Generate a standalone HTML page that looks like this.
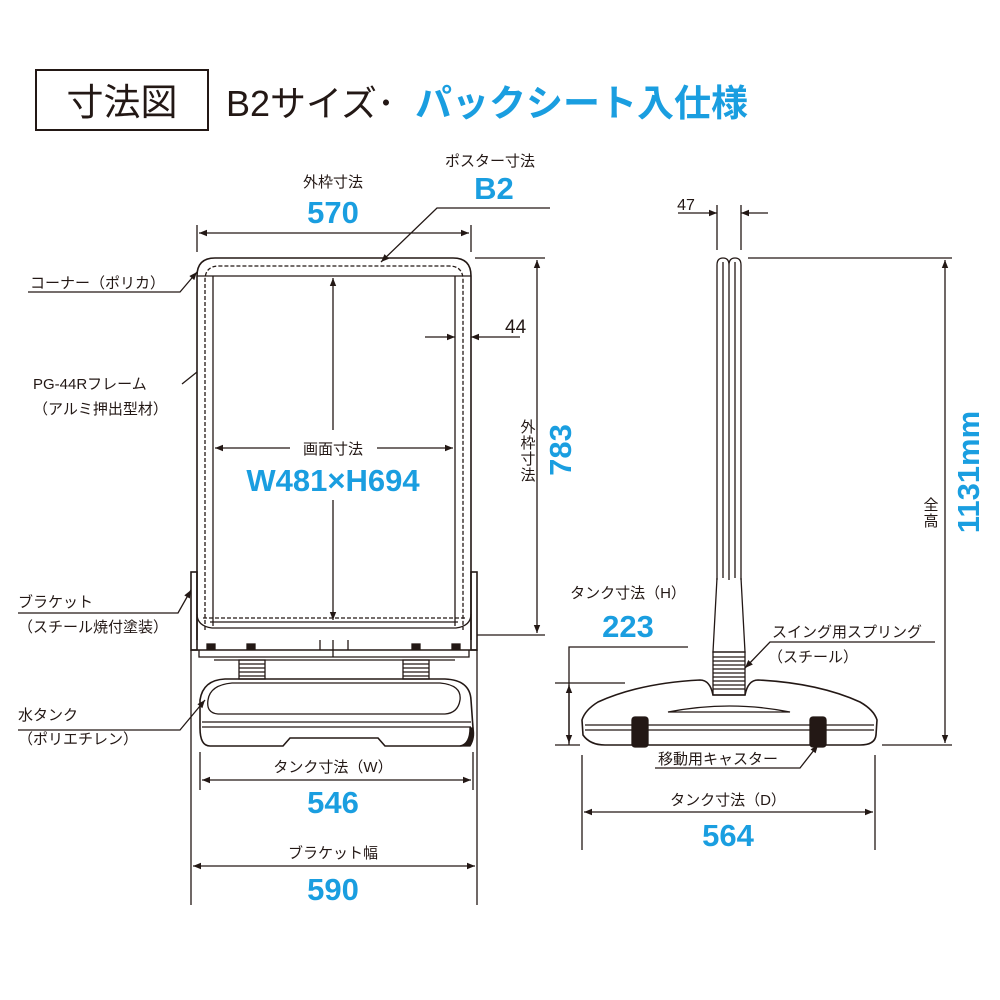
<!DOCTYPE html>
<html><head><meta charset="utf-8"><style>
html,body{margin:0;padding:0;background:#fff;}
svg{display:block;}
text{font-family:"Liberation Sans","Noto Sans CJK JP",sans-serif;fill:#231815;}
.b{fill:#1a9ee0;font-weight:bold;}
.s{font-size:15px;}
</style></head><body>
<svg width="1000" height="1000" viewBox="0 0 1000 1000" xmlns="http://www.w3.org/2000/svg">
<defs>
<marker id="a" viewBox="0 0 10 10" refX="10" refY="5" markerWidth="10" markerHeight="8" orient="auto-start-reverse" markerUnits="userSpaceOnUse"><path d="M0,1 L10,5 L0,9z" fill="#231815"/></marker>
</defs>
<g stroke="#231815" fill="none" stroke-width="1.3">
<rect x="36" y="70" width="172" height="60" stroke-width="2"/>
</g>
<text x="122" y="115" font-size="37" text-anchor="middle">寸法図</text>
<text x="226" y="116" font-size="36">B2サイズ･</text>
<text x="415" y="116" font-size="37" class="b">パックシート入仕様</text>

<g stroke="#231815" fill="none" stroke-width="1.3">
<line x1="197" y1="225" x2="197" y2="252"/><line x1="471" y1="225" x2="471" y2="252"/>
<line x1="199" y1="233" x2="469" y2="233" marker-start="url(#a)" marker-end="url(#a)"/>
<polyline points="550,208 437,208 381,262" marker-end="url(#a)"/>
<path d="M197,640 V276 Q197,258 215,258 H453 Q471,258 471,276 V640" stroke-width="1.6"/>
<path d="M205,630 V280 Q205,266 219,266 H449 Q463,266 463,280 V630" stroke-dasharray="4,2"/>
<line x1="197" y1="276" x2="471" y2="276"/>
<line x1="213" y1="276" x2="213" y2="626"/><line x1="455" y1="276" x2="455" y2="626"/>
<path d="M197,614 Q197,626 212,628 H456 Q471,626 471,614"/>
<line x1="203" y1="618" x2="465" y2="618" stroke-dasharray="4,2"/>
<line x1="210" y1="622" x2="458" y2="622"/>
<rect x="191" y="572" width="6" height="78" stroke-width="1.6"/>
<rect x="471" y="572" width="6" height="78" stroke-width="1.6"/>
<line x1="191" y1="650" x2="477" y2="650" stroke-width="1.6"/>
<polyline points="199,650 199,657 469,657 469,650"/>
<line x1="214" y1="660" x2="455" y2="660"/>
<line x1="333" y1="640" x2="333" y2="657"/><line x1="320" y1="640" x2="320" y2="650"/><line x1="348" y1="640" x2="348" y2="650"/>
<g fill="#231815"><rect x="207" y="644" width="8" height="5"/><rect x="247" y="644" width="8" height="5"/><rect x="412" y="644" width="8" height="5"/><rect x="452" y="644" width="8" height="5"/></g>
<rect x="239" y="660" width="26" height="19"/><rect x="403" y="660" width="26" height="19"/>
<path d="M239,664h26M239,668h26M239,672h26M239,676h26M403,664h26M403,668h26M403,672h26M403,676h26"/>
<path d="M225,679 H445 Q470,680 471,700 L473,728 Q472,746 460,746 H385 L378,738 H290 L283,746 H210 Q200,746 200,728 L200,700 Q203,680 225,679Z" stroke-width="1.6"/>
<path d="M232,683 H440 Q462,685 460,700 Q458,713 445,714 H218 Q206,713 208,700 Q210,685 232,683Z"/>
<line x1="202" y1="722" x2="471" y2="722"/><line x1="202" y1="727" x2="471" y2="727"/>
<path d="M470,728 Q470,744 460,746 L470,746 Q475,738 473,728Z" fill="#231815"/>
<line x1="475" y1="258" x2="545" y2="258"/><line x1="477" y1="635" x2="545" y2="635"/>
<line x1="537" y1="260" x2="537" y2="633" marker-start="url(#a)" marker-end="url(#a)"/>
<line x1="425" y1="337" x2="455" y2="337" marker-end="url(#a)"/>
<line x1="520" y1="337" x2="471" y2="337" marker-end="url(#a)"/>
<line x1="333" y1="430" x2="333" y2="278" marker-end="url(#a)"/>
<line x1="333" y1="500" x2="333" y2="620" marker-end="url(#a)"/>
<line x1="290" y1="448" x2="215" y2="448" marker-end="url(#a)"/>
<line x1="377" y1="448" x2="453" y2="448" marker-end="url(#a)"/>
<polyline points="28,292 180,292 197,272" marker-end="url(#a)"/>
<line x1="182" y1="384" x2="197" y2="372"/>
<polyline points="18,613 178,613 191,590" marker-end="url(#a)"/>
<polyline points="18,730 180,730 205,700" marker-end="url(#a)"/>
<line x1="200" y1="752" x2="200" y2="790"/><line x1="473" y1="752" x2="473" y2="790"/>
<line x1="202" y1="780" x2="471" y2="780" marker-start="url(#a)" marker-end="url(#a)"/>
<line x1="191" y1="650" x2="191" y2="905"/><line x1="477" y1="650" x2="477" y2="905"/>
<line x1="193" y1="866" x2="475" y2="866" marker-start="url(#a)" marker-end="url(#a)"/>

<path d="M717,580 V265 Q717,258 723,258 Q729,258 729,265 V580 M729,265 Q729,258 735,258 Q741,258 741,265 V580" />
<line x1="723" y1="262" x2="723" y2="578"/><line x1="735" y1="262" x2="735" y2="578"/>
<path d="M717,578 L713,652 H745 L741,578"/>
<rect x="713" y="652" width="32" height="43"/>
<path d="M713,657h32M713,661h32M713,665h32M713,669h32M713,673h32M713,677h32M713,681h32M713,685h32M713,689h32"/>
<path d="M713,695 Q710,680 700,680 Q640,683 598,702 Q585,710 582,720 L583,735 Q590,745 605,745 H860 Q875,745 876,735 L877,720 Q874,710 860,702 Q818,683 758,680 Q748,680 745,695 Z" stroke-width="1.6"/>
<path d="M668,712 Q730,700 790,712 Z"/>
<line x1="585" y1="725" x2="874" y2="725"/><line x1="585" y1="730" x2="874" y2="730"/>
<rect x="632" y="717" width="16" height="30" rx="3" fill="#231815"/>
<rect x="810" y="717" width="16" height="30" rx="3" fill="#231815"/>
<line x1="717" y1="205" x2="717" y2="250"/><line x1="741" y1="205" x2="741" y2="250"/>
<line x1="678" y1="213" x2="717" y2="213" marker-end="url(#a)"/>
<line x1="768" y1="213" x2="741" y2="213" marker-end="url(#a)"/>
<line x1="748" y1="258" x2="952" y2="258"/><line x1="882" y1="745" x2="952" y2="745"/>
<line x1="945" y1="260" x2="945" y2="743" marker-start="url(#a)" marker-end="url(#a)"/>
<polyline points="688,647 569,647 569,745"/>
<line x1="555" y1="683" x2="625" y2="683"/><line x1="555" y1="745" x2="580" y2="745"/>
<line x1="569" y1="685" x2="569" y2="743" marker-start="url(#a)" marker-end="url(#a)"/>
<polyline points="935,642 770,642 745,668" marker-end="url(#a)"/>
<polyline points="655,768 800,768 818,745" marker-end="url(#a)"/>
<line x1="582" y1="755" x2="582" y2="850"/><line x1="875" y1="755" x2="875" y2="850"/>
<line x1="584" y1="812" x2="873" y2="812" marker-start="url(#a)" marker-end="url(#a)"/>
</g>

<text x="333" y="187" class="s" text-anchor="middle">外枠寸法</text>
<text x="333" y="223" class="b" font-size="31" text-anchor="middle">570</text>
<text x="490" y="166" class="s" text-anchor="middle">ポスター寸法</text>
<text x="494" y="199" class="b" font-size="31" text-anchor="middle">B2</text>
<text x="505" y="333" font-size="19">44</text>
<text x="333" y="454" class="s" text-anchor="middle">画面寸法</text>
<text x="333" y="491" class="b" font-size="31" text-anchor="middle">W481×H694</text>
<g class="s" text-anchor="middle">
<text x="528" y="432" class="s">外</text><text x="528" y="448" class="s">枠</text><text x="528" y="464" class="s">寸</text><text x="528" y="480" class="s">法</text>
<text x="931" y="510" class="s">全</text><text x="931" y="526" class="s">高</text>
</g>
<text x="560" y="450" class="b" font-size="31" text-anchor="middle" transform="rotate(-90 560 450)" dy="11">783</text>
<text x="30" y="288" class="s">コーナー（ポリカ）</text>
<text x="33" y="389" class="s">PG-44Rフレーム</text>
<text x="33" y="414" class="s">（アルミ押出型材）</text>
<text x="18" y="607" class="s">ブラケット</text>
<text x="18" y="632" class="s">（スチール焼付塗装）</text>
<text x="18" y="720" class="s">水タンク</text>
<text x="18" y="744" class="s">（ポリエチレン）</text>
<text x="333" y="772" class="s" text-anchor="middle">タンク寸法（W）</text>
<text x="333" y="813" class="b" font-size="31" text-anchor="middle">546</text>
<text x="333" y="858" class="s" text-anchor="middle">ブラケット幅</text>
<text x="333" y="900" class="b" font-size="31" text-anchor="middle">590</text>
<text x="686" y="210" font-size="16" text-anchor="middle">47</text>
<text x="968" y="472" class="b" font-size="31" text-anchor="middle" transform="rotate(-90 968 472)" dy="11">1131mm</text>
<text x="628" y="598" class="s" text-anchor="middle">タンク寸法（H）</text>
<text x="628" y="637" class="b" font-size="31" text-anchor="middle">223</text>
<text x="772" y="637" class="s">スイング用スプリング</text>
<text x="768" y="662" class="s">（スチール）</text>
<text x="658" y="764" class="s">移動用キャスター</text>
<text x="728" y="805" class="s" text-anchor="middle">タンク寸法（D）</text>
<text x="728" y="846" class="b" font-size="31" text-anchor="middle">564</text>
</svg>
</body></html>
